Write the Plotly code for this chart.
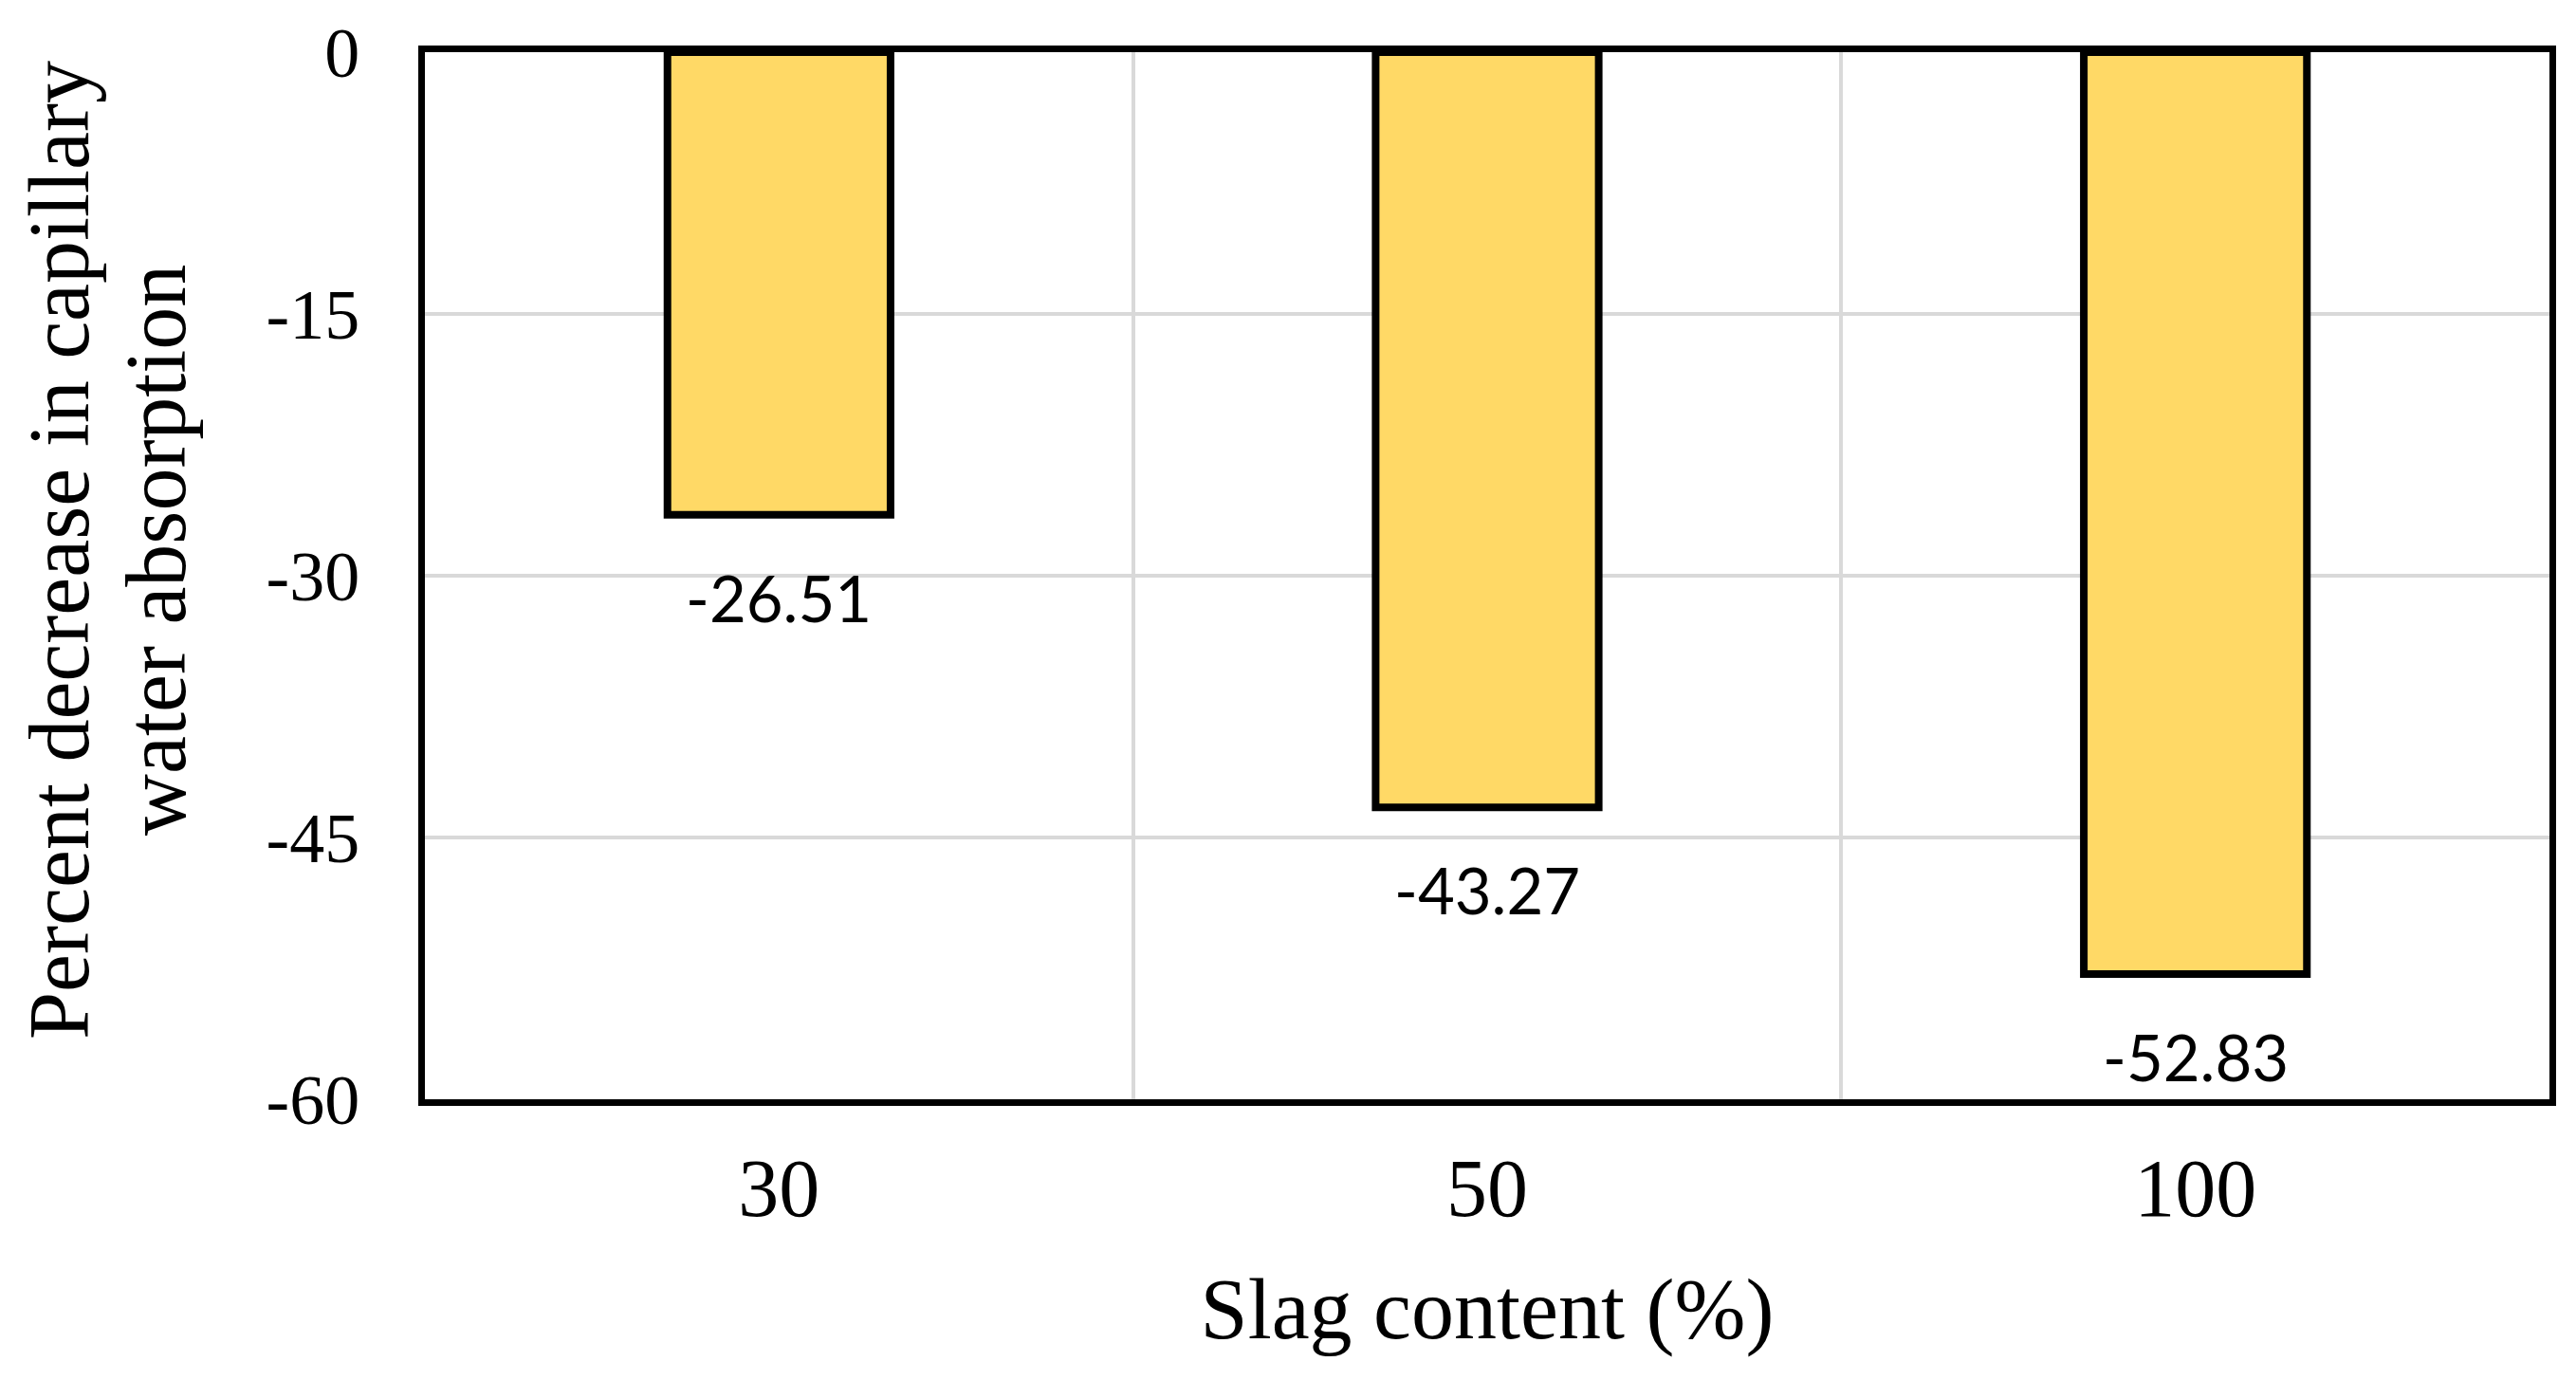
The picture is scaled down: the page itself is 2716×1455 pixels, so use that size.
import plotly.graph_objects as go

# Data
categories = ["30", "50", "100"]
values = [-26.51, -43.27, -52.83]
y_tick_vals = [0, -15, -30, -45, -60]
y_tick_text = ["0", "-15", "-30", "-45", "-60"]
x_title = "Slag content (%)"
y_title_lines = ["Percent decrease in capillary", "water absorption"]

W, H = 2700, 1440
serif = "Liberation Serif, Times New Roman, serif"

fig = go.Figure()
fig.add_trace(go.Bar(
    x=list(range(len(categories))),
    y=values,
    width=0.315,
    marker=dict(color="#FFD966", line=dict(color="black", width=8)),
    showlegend=False,
))

# data labels below the bar ends
for i, v in enumerate(values):
    fig.add_annotation(
        x=i, y=v, text=f"{v:.2f}", showarrow=False,
        xref="x", yref="y", xanchor="center", yanchor="middle", yshift=-87,
        font=dict(family="Lato, Carlito, sans-serif", size=67, color="black"),
    )

# two-line y axis title
for line, shift in zip(y_title_lines, [-385, -283]):
    fig.add_annotation(
        x=0, y=0.5245, xref="paper", yref="paper", text=line,
        textangle=-90, showarrow=False, xanchor="center", yanchor="middle",
        xshift=shift,
        font=dict(family=serif, size=90, color="black"),
    )

fig.update_layout(
    width=W, height=H,
    margin=dict(l=440, r=20, t=47, b=289, autoexpand=False),
    paper_bgcolor="white",
    plot_bgcolor="white",
    font=dict(family=serif, color="black"),
)

fig.update_xaxes(
    tickvals=list(range(len(categories))), ticktext=categories,
    range=[-0.5, len(categories) - 0.5],
    showgrid=False,
    minor=dict(tickvals=[0.5, 1.5], showgrid=True, gridcolor="#D9D9D9", gridwidth=4, ticks=""),
    showline=True, linecolor="black", linewidth=7, mirror=True,
    ticks="", ticklabelstandoff=13,
    tickfont=dict(family=serif, size=86, color="black"),
    title=dict(text=x_title, font=dict(family=serif, size=90, color="black"), standoff=50),
    zeroline=False,
)

fig.update_yaxes(
    range=[-60, 0],
    tickvals=y_tick_vals, ticktext=y_tick_text,
    showgrid=True, gridcolor="#D9D9D9", gridwidth=4,
    zeroline=False,
    showline=True, linecolor="black", linewidth=7, mirror=True,
    ticks="", ticklabelstandoff=47,
    tickfont=dict(family=serif, size=74, color="black"),
)

fig.write_html("out.html")
